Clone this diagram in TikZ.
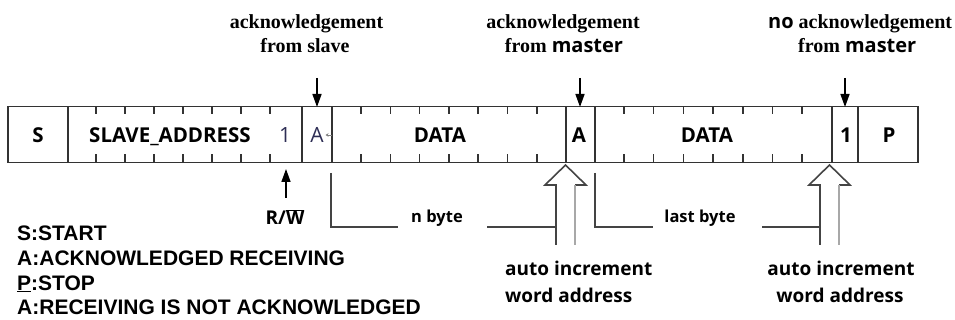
\documentclass[tikz,border=0pt]{standalone}
\usepackage{fontspec}
\setmainfont{Liberation Serif}
\newfontfamily\osans{Open Sans}
\newfontfamily\arial{Liberation Sans}
\usetikzlibrary{arrows.meta}
\definecolor{barc}{HTML}{333333}
\definecolor{linec}{HTML}{444444}
\definecolor{lightc}{HTML}{A8A8A8}
\definecolor{thinc}{HTML}{2E2E55}
\begin{document}
\begin{tikzpicture}[x=1pt,y=-1pt,
  bar/.style={line width=1.7pt, draw=barc},
  tickmark/.style={line width=1.5pt, draw=barc},
  cell/.style={font=\osans\bfseries\fontsize{20.5}{22}\selectfont, anchor=base, inner sep=0},
  thincell/.style={font=\osans\fontsize{21}{23}\selectfont, anchor=base, inner sep=0, text=thinc},
  toplbl/.style={font=\bfseries\fontsize{20}{22}\selectfont, anchor=base, inner sep=0},
  lbl/.style={font=\osans\bfseries\fontsize{19}{21}\selectfont, anchor=base, inner sep=0},
  smalllbl/.style={font=\osans\bfseries\fontsize{16.5}{18}\selectfont, anchor=base, inner sep=0},
  legend/.style={font=\arial\bfseries\fontsize{21}{23}\selectfont, anchor=base west, inner sep=0},
  ptr/.style={-{Triangle[length=13pt,width=9pt]}, line width=1.5pt, draw=black},
  brk/.style={line width=1.6pt, draw=linec},
  hollowL/.style={line width=1.6pt, draw=linec, line join=miter},
  hollowR/.style={line width=1.6pt, draw=lightc}
]
\useasboundingbox (0,0) rectangle (955,320);

% ---- frame bar ----
\draw[bar] (8,106.5) rectangle (918,162.5);
\foreach \x in {68,302,332,566,595,832,858}
  \draw[bar] (\x,106.5) -- (\x,162.5);
\foreach \x in {96,125,154,183,212,241,270,
                361,390.3,419.6,448.9,478.2,507.5,536.8,
                624,653.7,683.4,713.1,742.8,772.5,802.2}
  \draw[tickmark] (\x,106.5) -- (\x,114.5) (\x,162.5) -- (\x,154.5);

% ---- cell texts ----
\node[cell] (cS) at (38,143) {S};
\node[cell] (cAddr) at (170,143) {SLAVE\_ADDRESS};
\node[thincell] (cRW) at (285,143) {1};
\node[thincell] (cA1) at (317,143) {A};
\coordinate (smallarrS) at (331.5,135);
\coordinate (smallarrE) at (325.5,135);
\draw[-{Stealth[length=3pt,width=3.5pt]}, line width=0.7pt, draw=gray] (smallarrS) -- (smallarrE);
\node[cell] (cD1) at (440,143) {DATA};
\node[cell] (cA2) at (579,143) {A};
\node[cell] (cD2) at (707,143) {DATA};
\node[cell] (cN) at (846,143) {1};
\node[cell] (cP) at (889,143) {P};

% ---- top labels and arrows ----
\node[toplbl] (ackS1) at (306.5,29) {acknowledgement};
\node[toplbl] (ackS2) at (305,53) {from slave};
\node[toplbl] (ackM1) at (563,29) {acknowledgement};
\node[toplbl] (ackM2) at (564,53) {from {\osans master}};
\node[toplbl, anchor=base west] (nack1) at (768,29) {{\osans no} acknowledgement};
\node[toplbl, anchor=base west] (nack2) at (798,53) {from {\osans master}};

\coordinate (ptrS0) at (317,78);   \coordinate (ptrS1) at (317,107);
\coordinate (ptrM0) at (580,78);   \coordinate (ptrM1) at (580,107);
\coordinate (ptrN0) at (845,78);   \coordinate (ptrN1) at (845,107);
\draw[ptr] (ptrS0) -- (ptrS1);
\draw[ptr] (ptrM0) -- (ptrM1);
\draw[ptr] (ptrN0) -- (ptrN1);

% ---- R/W pointer ----
\coordinate (rw0) at (286,198);
\coordinate (rw1) at (286,169);
\draw[ptr] (rw0) -- (rw1);
\node[lbl] (rw) at (285,225) {R/$\overline{\hbox{W}}$};

% ---- byte brackets ----
\coordinate (nb0) at (331,173); \coordinate (nb1) at (331,227); \coordinate (nb2) at (398,227);
\draw[brk] (nb0) -- (nb1) -- (nb2);
\node[smalllbl] (nbyte) at (437,223) {n byte};
\coordinate (nb3) at (487,227);

\coordinate (lb0) at (595,173); \coordinate (lb1) at (595,227); \coordinate (lb2) at (653,227);
\draw[brk] (lb0) -- (lb1) -- (lb2);
\node[smalllbl] (lbyte) at (700,223) {last byte};
\coordinate (lb3) at (762,227);

% ---- hollow arrows ----
\coordinate (h1a) at (556,245); \coordinate (h1b) at (556,185); \coordinate (h1c) at (545,185);
\coordinate (h1t) at (565.5,165);
\coordinate (h1d) at (586,185); \coordinate (h1e) at (575,185); \coordinate (h1f) at (575,245);
\coordinate (h1j) at (556,227);
\draw[brk] (nb3) -- (h1j);
\draw[hollowL] (h1a) -- (h1b) -- (h1c) -- (h1t) -- (h1d) -- (h1e);
\draw[hollowR] (h1e) -- (h1f);

\coordinate (h2a) at (820,245); \coordinate (h2b) at (820,185); \coordinate (h2c) at (809,185);
\coordinate (h2t) at (829.5,165);
\coordinate (h2d) at (850,185); \coordinate (h2e) at (839,185); \coordinate (h2f) at (839,245);
\coordinate (h2j) at (820,227);
\draw[brk] (lb3) -- (h2j);
\draw[hollowL] (h2a) -- (h2b) -- (h2c) -- (h2t) -- (h2d) -- (h2e);
\draw[hollowR] (h2e) -- (h2f);

\node[lbl, anchor=base west] (auto1a) at (505,275) {auto increment};
\node[lbl, anchor=base west] (auto1b) at (505,302) {word address};
\node[lbl] (auto2a) at (841,275) {auto increment};
\node[lbl] (auto2b) at (840,302) {word address};

% ---- legend ----
\node[legend] (lg1) at (17,241) {S:START};
\node[legend] (lg2) at (17,265.5) {A:ACKNOWLEDGED RECEIVING};
\node[legend] (lg3) at (17,290) {\underline{P}:STOP};
\node[legend] (lg4) at (17,314.5) {A:RECEIVING IS NOT ACKNOWLEDGED};
\end{tikzpicture}
\end{document}
